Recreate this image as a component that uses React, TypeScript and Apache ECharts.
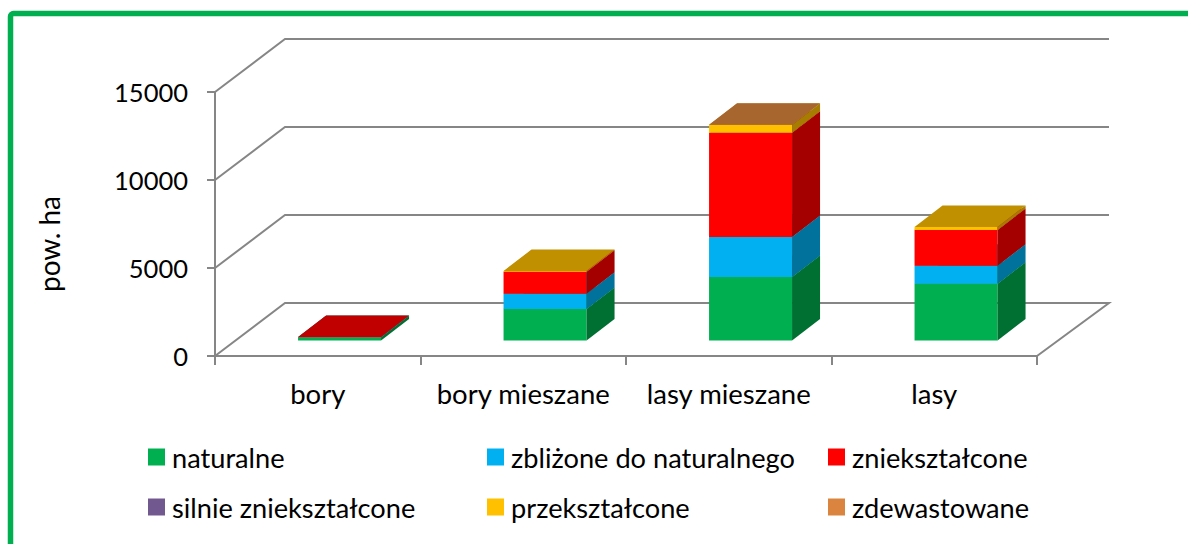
import React, { useEffect, useRef } from "react";
import * as echarts from "echarts";

const categories = ["bory", "bory mieszane", "lasy mieszane", "lasy"];
const yTicks = [0, 5000, 10000, 15000];

const seriesNames = [
  "naturalne",
  "zbliżone do naturalnego",
  "zniekształcone",
  "silnie zniekształcone",
  "przekształcone",
  "zdewastowane",
];

// null = the class does not occur in that forest type
const naturalne = [190, 1790, 3610, 3230];
const zblizone = [0, 870, 2270, 1020];
const znieksztalcone = [5, 1250, 5930, 2030];
const silnie = [null, null, null, null];
const przeksztalcone = [null, 40, 440, 170];
const zdewastowane = [null, null, 15, null];
const allValues = [naturalne, zblizone, znieksztalcone, silnie, przeksztalcone, zdewastowane];

const frontColors = ["#00B050", "#00B0F0", "#FF0000", "#71588F", "#FFC000", "#DA843F"];
const sideColors = ["#006F32", "#00729C", "#A50000", "#4A3A5D", "#A67D00", "#8C5A28"];
const topColors = ["#008540", "#0085B5", "#C00000", "#55426C", "#C09000", "#A8662F"];

const legendX = [148, 487, 828];
const legendY = [443.5, 493.5];

const WALL_DX_LEFT = 70;
const WALL_DX_RIGHT = 72;
const WALL_DY = 53;
const BAR_W = 83;
const BAR_SHIFT_X = 21.8;
const BAR_SHIFT_Y = 15.5;
const BAR_DX = 28;
const BAR_DY = 21.5;
const AXIS_COLOR = "#868686";
const FONT = "Lato";

function buildSegments(idx: number) {
  const out: number[][] = [];
  categories.forEach((_, c) => {
    const v = allValues[idx][c];
    if (v === null) return;
    let base = 0;
    for (let s = 0; s < idx; s++) base += allValues[s][c] ?? 0;
    out.push([c, base, base + v]);
  });
  return out;
}

function barRenderer(idx: number) {
  return (_params: any, api: any) => {
    const c = api.value(0);
    const b = api.coord([c, api.value(1)]);
    const t = api.coord([c, api.value(2)]);
    const x0 = b[0] - BAR_W / 2 + BAR_SHIFT_X;
    const x1 = x0 + BAR_W;
    const yb = b[1] - BAR_SHIFT_Y;
    const yt = t[1] - BAR_SHIFT_Y;
    const poly = (points: number[][], fill: string) => ({
      type: "polygon",
      shape: { points },
      style: { fill, stroke: null },
    });
    return {
      type: "group",
      children: [
        poly([[x0, yb], [x1, yb], [x1, yt], [x0, yt]], frontColors[idx]),
        poly([[x1, yb], [x1 + BAR_DX, yb - BAR_DY], [x1 + BAR_DX, yt - BAR_DY], [x1, yt]], sideColors[idx]),
        poly([[x0, yt], [x1, yt], [x1 + BAR_DX, yt - BAR_DY], [x0 + BAR_DX, yt - BAR_DY]], topColors[idx]),
      ],
    };
  };
}

function wallRenderer(_params: any, api: any) {
  const v = api.value(0);
  const l = api.coord([0, v]);
  const r = api.coord([categories.length - 1, v]);
  const band = api.size([1, 0])[0];
  const xl = l[0] - band / 2;
  const xr = r[0] + band / 2;
  const y = l[1];
  const pts = [[xl, y], [xl + WALL_DX_LEFT, y - WALL_DY], [xr + WALL_DX_RIGHT, y - WALL_DY]];
  if (v === 0) pts.push([xr, y]);
  return {
    type: "polyline",
    shape: { points: pts },
    style: { fill: null, stroke: AXIS_COLOR, lineWidth: 2 },
  };
}

export default function App() {
  const ref = useRef<HTMLDivElement>(null);
  useEffect(() => {
    const chart = echarts.init(ref.current!, null, { renderer: "svg" });
    chart.setOption({
      animation: false,
      backgroundColor: "#FFFFFF",
      grid: { left: 215, top: 92, right: 151, bottom: 188 },
      xAxis: {
        type: "category",
        data: categories,
        axisLine: { show: true, lineStyle: { color: AXIS_COLOR, width: 2 } },
        axisTick: { show: true, length: 9, lineStyle: { color: AXIS_COLOR, width: 2 } },
        axisLabel: { color: "#000", fontFamily: FONT, fontSize: 27.5, margin: 23, interval: 0 },
      },
      yAxis: {
        type: "value",
        min: 0,
        max: 15000,
        interval: 5000,
        name: "pow. ha",
        nameLocation: "middle",
        nameGap: 152,
        nameRotate: 90,
        nameTextStyle: { color: "#000", fontFamily: FONT, fontSize: 28, padding: [0, 40, 0, 0] },
        splitLine: { show: false },
        axisLine: { show: true, lineStyle: { color: AXIS_COLOR, width: 2 } },
        axisTick: { show: true, length: 8, lineStyle: { color: AXIS_COLOR, width: 2 } },
        axisLabel: {
          color: "#000",
          fontFamily: FONT,
          fontSize: 25.5,
          margin: 27,
          formatter: (v: number) => String(v),
        },
      },
      legend: seriesNames.map((name, i) => ({
        data: [name],
        left: legendX[i % 3],
        top: legendY[Math.floor(i / 3)],
        padding: 0,
        icon: "rect",
        itemWidth: 17,
        itemHeight: 17,
        selectedMode: false,
        textStyle: { color: "#000", fontFamily: FONT, fontSize: 27.2, padding: [0, 0, 0, 2] },
      })),
      graphic: [
        {
          type: "rect",
          silent: true,
          shape: { x: 10.5, y: 13.6, width: 1400, height: 800, r: 3 },
          style: { fill: "none", stroke: "#00B050", lineWidth: 5.5 },
        },
      ],
      series: [
        {
          type: "custom",
          name: "walls",
          silent: true,
          z: 1,
          clip: false,
          data: yTicks.map((v) => [v]),
          encode: { y: 0 },
          renderItem: wallRenderer,
        },
        ...seriesNames.map((name, i) => ({
          type: "custom",
          name,
          z: 3,
          clip: false,
          silent: true,
          itemStyle: { color: frontColors[i] },
          data: buildSegments(i),
          encode: { x: 0, y: [1, 2] },
          renderItem: barRenderer(i),
        })),
      ],
    });
    return () => chart.dispose();
  }, []);
  return <div ref={ref} style={{ position: "absolute", left: 0, top: 0, width: 1188, height: 544 }} />;
}
